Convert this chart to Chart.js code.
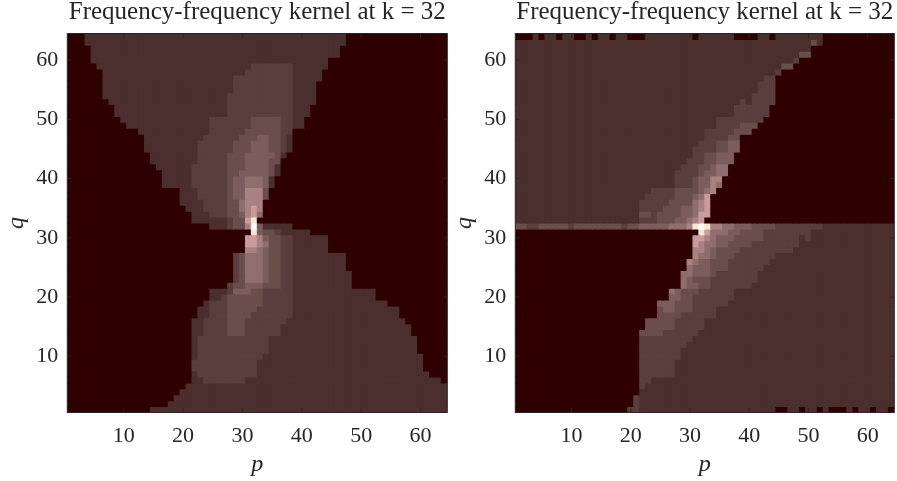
<!DOCTYPE html>
<html>
<head>
<meta charset="utf-8">
<title>Frequency-frequency kernel</title>
<script src="https://cdn.jsdelivr.net/npm/chart.js@4"></script>
<style>
  body { margin: 0; background: #fff; overflow: hidden; }
  canvas { position: absolute; top: 0; }
  #kernelLeft { left: 0; }
  #kernelRight { left: 448px; }
</style>
</head>
<body>
<canvas id="kernelLeft" width="450" height="481"></canvas>
<canvas id="kernelRight" width="449" height="481"></canvas>
<script>
const chartTitle = 'Frequency-frequency kernel at k = 32';
const pTickValues = [10, 20, 30, 40, 50, 60];
const qTickValues = [10, 20, 30, 40, 50, 60];
const pLabels = Array.from({ length: 64 }, (_, i) => i + 1);

// colour level of each run, "level:last p", rows go from q = 64 down to q = 1
const leftRows = [
  '0:3,1:47,0:64', '0:3,1:47,0:64', '0:4,1:46,0:64', '0:4,1:46,0:64',
  '0:4,1:44,0:64', '0:5,1:31,2:38,1:44,0:64', '0:6,1:30,2:38,1:43,0:64', '0:6,1:28,2:38,1:43,0:64',
  '0:6,1:28,2:38,1:42,0:64', '0:6,1:28,2:38,1:42,0:64', '0:6,1:27,2:38,1:42,0:64', '0:7,1:27,2:38,1:42,0:64',
  '0:8,1:27,2:38,1:41,0:64', '0:8,1:27,2:38,1:41,0:64', '0:9,1:24,2:31,3:36,2:38,1:40,0:64', '0:10,1:24,2:31,3:36,2:38,1:40,0:64',
  '0:12,1:24,2:30,3:36,2:38,0:64', '0:13,1:23,2:29,3:32,4:34,3:36,2:37,1:38,0:64', '0:13,1:22,2:28,3:31,4:34,3:36,2:37,1:38,0:64', '0:13,1:22,2:28,3:31,4:34,3:36,2:37,1:38,0:64',
  '0:14,1:22,2:27,3:30,4:35,3:36,1:37,0:64', '0:14,1:22,2:27,3:30,4:34,3:36,0:64', '0:15,1:21,2:27,3:30,4:34,3:35,1:36,0:64', '0:16,1:21,2:27,3:29,4:34,3:35,1:36,0:64',
  '0:16,1:21,2:27,3:28,4:30,5:33,4:34,1:35,0:64', '0:16,1:21,2:27,3:28,4:30,5:33,4:34,1:35,0:64', '0:19,1:22,2:27,3:28,4:30,6:33,3:34,0:64', '0:19,1:22,2:27,3:28,4:30,6:33,3:34,0:64',
  '0:19,1:23,2:27,3:29,5:30,6:33,0:64', '0:20,1:23,2:27,3:29,5:30,6:31,7:32,6:33,0:64', '0:21,1:24,2:27,3:29,4:30,6:31,7:32,5:33,0:64', '0:21,1:27,2:28,3:30,7:31,8:32,0:64',
  '0:24,1:27,2:28,3:30,6:31,9:32,4:33,1:38,0:64', '0:31,8:32,4:33,3:35,2:36,1:41,0:64', '0:30,7:32,6:33,4:34,3:36,2:38,1:44,0:64', '0:30,7:32,6:33,5:34,3:36,2:38,1:44,0:64',
  '0:30,6:32,5:33,4:34,3:36,2:38,1:44,0:64', '0:28,2:29,3:30,5:33,4:34,3:36,2:38,1:47,0:64', '0:28,2:29,3:30,5:33,4:34,3:36,2:38,1:47,0:64', '0:28,2:29,3:30,5:33,4:34,3:36,2:38,1:47,0:64',
  '0:28,2:29,3:30,5:33,4:34,3:36,2:38,1:48,0:64', '0:28,2:29,3:30,5:33,4:34,3:36,2:38,1:48,0:64', '0:27,2:28,3:30,4:33,3:36,2:38,1:48,0:64', '0:24,1:27,2:28,4:31,3:33,2:38,1:52,0:64',
  '0:24,1:26,2:27,3:33,2:38,1:52,0:64', '0:23,1:24,2:27,3:33,2:38,1:54,0:64', '0:22,1:24,2:27,3:32,2:38,1:56,0:64', '0:22,1:24,2:27,3:31,2:38,1:56,0:64',
  '0:21,1:23,2:27,3:30,2:37,1:57,0:64', '0:21,1:23,2:27,3:30,2:36,1:58,0:64', '0:21,1:23,2:27,3:30,2:36,1:58,0:64', '0:21,1:22,2:34,1:59,0:64',
  '0:21,1:22,2:34,1:59,0:64', '0:21,1:22,2:34,1:59,0:64', '0:21,1:22,2:33,1:60,0:64', '0:21,2:32,1:60,0:64',
  '0:21,2:32,1:60,0:64', '0:21,1:22,2:32,1:61,0:64', '0:21,1:23,2:30,1:63,0:64', '0:20,1:64',
  '0:19,1:64', '0:18,1:64', '0:17,1:64', '0:14,1:64'
];

const rightRows = [
  '0:3,1:4,0:5,1:7,0:8,1:10,0:12,1:13,0:14,1:16,0:17,1:19,0:22,1:30,0:31,1:37,0:41,1:43,0:44,1:52,0:64', '1:50,3:51,1:52,0:64', '1:50,0:64', '1:48,3:50,0:64',
  '1:47,2:48,0:64', '1:45,3:47,0:64', '1:44,2:45,0:64', '1:42,2:44,0:64',
  '1:41,2:44,0:64', '1:41,2:44,0:64', '1:40,2:44,0:64', '1:38,2:39,1:40,2:44,0:64',
  '1:37,2:43,0:64', '1:37,2:43,0:64', '1:34,2:42,0:64', '1:34,2:38,3:41,0:64',
  '1:32,2:37,3:40,0:64', '1:32,2:36,3:38,0:64', '1:31,2:34,3:36,4:38,0:64', '1:30,2:34,3:36,4:38,0:64',
  '1:30,2:32,3:34,4:37,0:64', '1:29,2:32,3:34,4:37,0:64', '1:28,2:31,3:33,4:34,5:36,0:64', '1:27,2:31,3:32,4:34,5:36,0:64',
  '1:27,2:30,3:31,4:33,6:35,0:64', '1:27,2:30,3:31,4:33,6:34,5:35,0:64', '1:23,2:27,3:31,4:32,5:33,6:34,0:64', '1:22,2:27,3:30,4:31,5:32,7:33,0:64',
  '1:21,2:26,3:30,5:31,6:32,7:33,0:64', '1:21,2:25,3:28,4:30,5:31,6:32,7:33,0:64', '1:21,3:23,2:24,3:28,4:30,5:31,7:33,0:64', '1:21,2:24,3:27,4:29,5:30,6:31,7:32,0:64',
  '3:2,2:4,3:9,2:10,3:18,2:19,3:21,4:26,5:29,6:30,8:31,9:32,8:33,6:35,5:37,4:40,3:44,2:52,1:64', '0:31,8:32,7:33,5:36,4:38,3:42,2:50,1:64', '0:30,7:32,6:33,5:34,4:37,3:42,2:48,1:49,2:50,1:64', '0:30,7:31,6:32,5:34,4:36,3:40,2:48,1:64',
  '0:30,6:32,5:33,4:34,3:38,2:47,1:64', '0:30,6:31,5:33,4:34,3:37,2:44,1:64', '0:29,6:30,5:31,4:33,3:36,2:43,1:64', '0:29,5:30,4:33,3:36,2:42,1:64',
  '0:28,5:30,4:33,3:34,2:41,1:64', '0:28,5:29,4:30,3:33,2:41,1:64', '0:28,5:29,4:31,3:33,2:40,1:64', '0:26,5:27,4:28,3:31,2:37,1:64',
  '0:26,4:28,3:30,2:37,1:64', '0:24,4:27,3:30,2:36,1:64', '0:24,3:25,4:27,3:30,2:34,1:64', '0:24,3:28,2:34,1:64',
  '0:22,3:27,2:32,1:64', '0:22,3:27,2:32,1:64', '0:21,3:25,2:31,1:64', '0:21,2:30,1:64',
  '0:21,2:29,1:64', '0:21,2:28,1:64', '0:21,2:28,1:64', '0:21,2:27,1:64',
  '0:21,2:27,1:64', '0:21,2:27,1:64', '0:21,2:23,1:64', '0:21,2:22,1:64',
  '0:21,1:64', '0:20,2:21,1:64', '0:20,2:21,1:64', '0:19,2:21,1:44,0:46,1:48,0:49,1:51,0:52,1:53,0:56,1:57,0:58,1:60,0:61,1:63,0:64'
];

const levelColors = ['#2f0000', '#4b2f2f', '#5a3e3e', '#6a4e4c', '#7c5d5d', '#8f6e6e', '#a88182', '#ca9b9d', '#f1e9d2', '#ffffff'];

const axisColor = '#262626';
const fontFamily = '"Liberation Serif", serif';

function expandRow(row) {
  const levels = [];
  row.split(',').forEach(run => {
    const [level, last] = run.split(':').map(Number);
    while (levels.length < last) levels.push(level);
  });
  return levels;
}

function buildDatasets(rows) {
  return rows.map((row, j) => {
    const q = 64 - j;
    return {
      label: 'q = ' + q,
      data: pLabels.map(() => [q - 0.5, q + 0.5]),
      backgroundColor: expandRow(row).map(level => levelColors[level]),
      borderWidth: 0,
      inflateAmount: 0.5,
      barPercentage: 1,
      categoryPercentage: 1,
      grouped: false
    };
  });
}

// matlab style box with the ticks pointing inwards on all four sides
const boxPlugin = {
  id: 'boxPlugin',
  afterDraw(chart) {
    const { ctx, chartArea: a, scales } = chart;
    ctx.save();
    ctx.strokeStyle = axisColor;
    ctx.lineWidth = 1;
    ctx.strokeRect(a.left, a.top, a.right - a.left, a.bottom - a.top);
    ctx.beginPath();
    pTickValues.forEach(p => {
      const x = scales.x.getPixelForValue(p - 1);
      ctx.moveTo(x, a.bottom); ctx.lineTo(x, a.bottom - 4);
      ctx.moveTo(x, a.top); ctx.lineTo(x, a.top + 4);
    });
    qTickValues.forEach(q => {
      const y = scales.y.getPixelForValue(q);
      ctx.moveTo(a.left, y); ctx.lineTo(a.left + 4, y);
      ctx.moveTo(a.right, y); ctx.lineTo(a.right - 4, y);
    });
    ctx.stroke();
    ctx.restore();
  }
};

function makeChart(id, rows) {
  return new Chart(document.getElementById(id), {
    type: 'bar',
    data: { labels: pLabels, datasets: buildDatasets(rows) },
    plugins: [boxPlugin],
    options: {
      responsive: false,
      animation: false,
      layout: { padding: { right: 2.7 } },
      plugins: {
        legend: { display: false },
        tooltip: { enabled: false },
        title: {
          display: true,
          text: chartTitle,
          fullSize: false,
          color: axisColor,
          font: { family: fontFamily, size: 25, weight: 'normal', lineHeight: 1 },
          padding: { top: 0, bottom: 8.5 }
        }
      },
      scales: {
        x: {
          type: 'category',
          grid: { display: false, drawTicks: false },
          border: { display: false },
          afterFit: s => { s.height = 68.5; s.paddingLeft = 0; s.paddingRight = 0; },
          ticks: {
            autoSkip: false,
            sampleSize: 64,
            maxRotation: 0,
            padding: 11,
            color: axisColor,
            font: { family: fontFamily, size: 22 },
            callback: (v, i) => pTickValues.includes(i + 1) ? String(i + 1) : ''
          },
          title: {
            display: true,
            text: 'p',
            color: axisColor,
            font: { family: fontFamily, size: 24, style: 'italic' },
            padding: { top: 0, bottom: 2 }
          }
        },
        y: {
          type: 'linear',
          min: 0.5,
          max: 64.5,
          grid: { display: false, drawTicks: false },
          border: { display: false },
          afterBuildTicks: s => { s.ticks = qTickValues.map(value => ({ value })); },
          afterFit: s => { s.width = 67.3; },
          ticks: {
            padding: 9,
            color: axisColor,
            font: { family: fontFamily, size: 22 }
          },
          title: {
            display: true,
            text: 'q',
            color: axisColor,
            font: { family: fontFamily, size: 24, style: 'italic' },
            padding: { top: 2.6, bottom: 0 }
          }
        }
      }
    }
  });
}

makeChart('kernelLeft', leftRows);
makeChart('kernelRight', rightRows);
</script>
</body>
</html>
